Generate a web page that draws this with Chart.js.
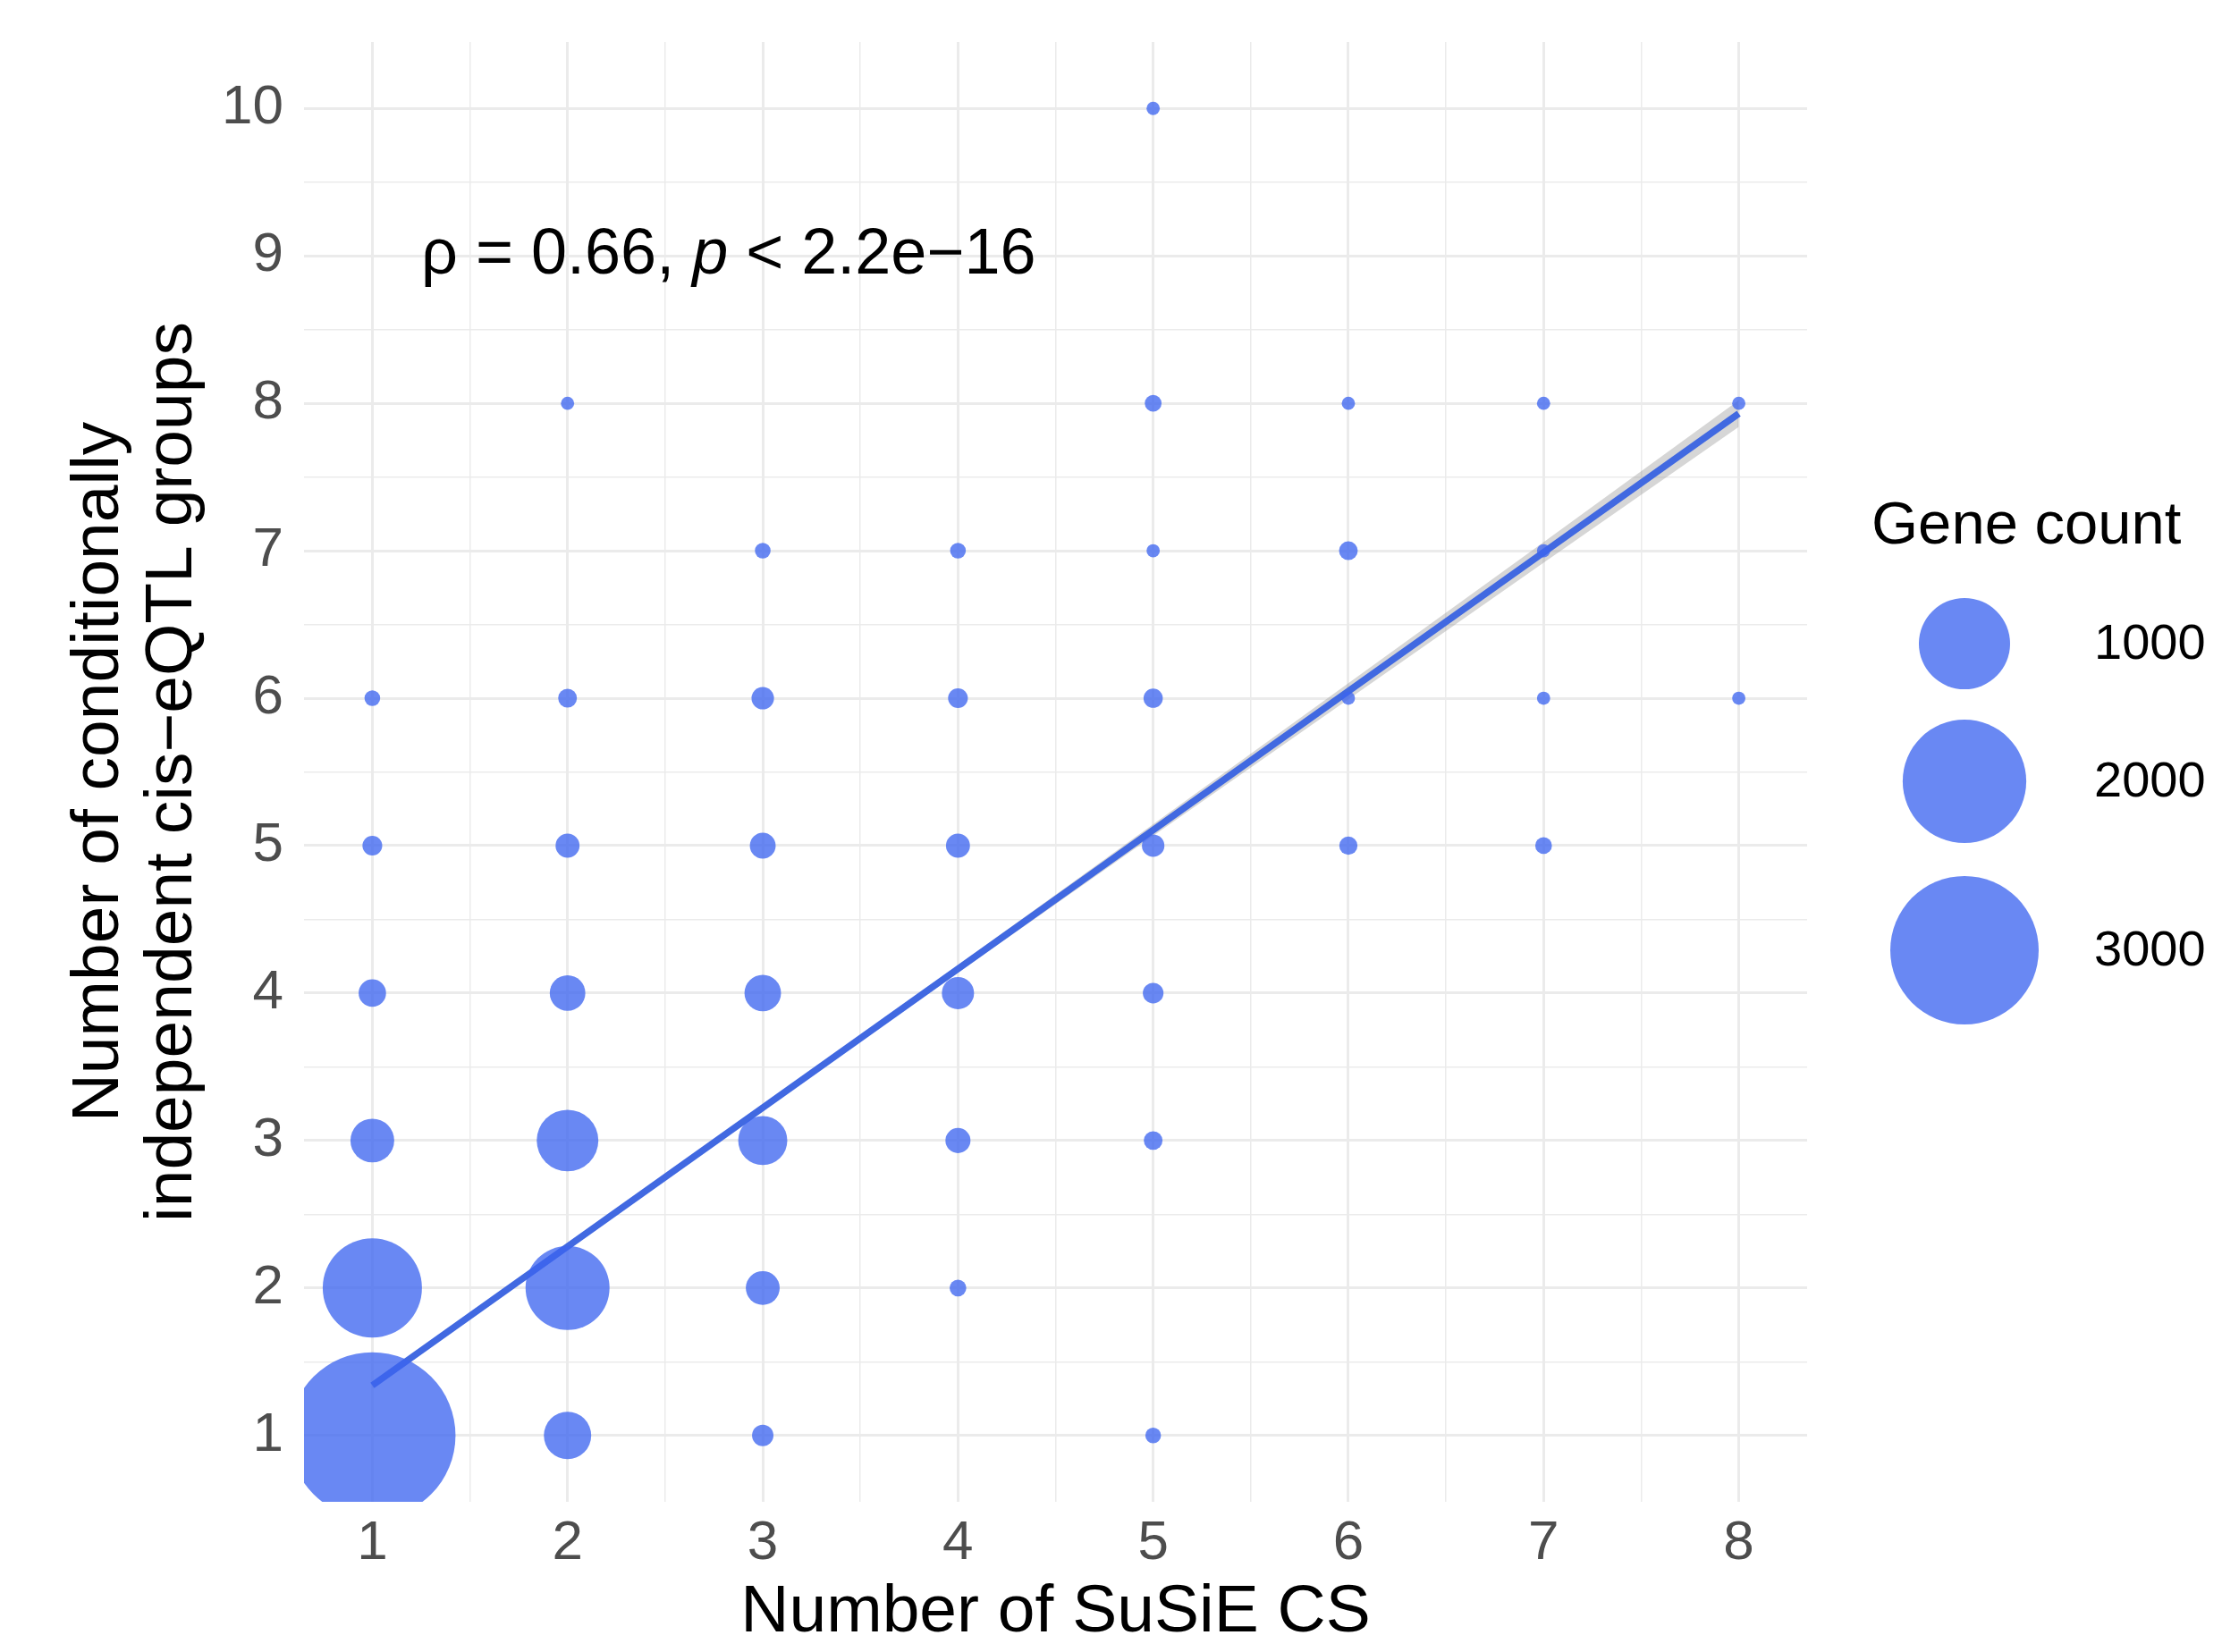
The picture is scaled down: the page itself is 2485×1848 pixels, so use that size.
<!DOCTYPE html>
<html>
<head>
<meta charset="utf-8">
<script src="https://cdn.jsdelivr.net/npm/chart.js@4.4.1/dist/chart.umd.min.js"></script>
<style>
  html, body { margin: 0; padding: 0; background: #fff; }
  canvas { display: block; }
</style>
</head>
<body>
<canvas id="bubbleChart" width="2485" height="1848"></canvas>
<script>
// number of SuSiE credible sets (x), number of conditional eQTL groups (y), genes at that cell
const susieCS    = [1, 1, 1, 1, 1, 1,   2, 2, 2, 2, 2, 2, 2,   3, 3, 3, 3, 3, 3, 3,   4, 4, 4, 4, 4, 4,   5, 5, 5, 5, 5, 5, 5, 5,   6, 6, 6, 6,   7, 7, 7, 7,   8, 8];
const eqtlGroups = [1, 2, 3, 4, 5, 6,   1, 2, 3, 4, 5, 6, 8,   1, 2, 3, 4, 5, 6, 7,   2, 3, 4, 5, 6, 7,   1, 3, 4, 5, 6, 7, 8, 10,  5, 6, 7, 8,   5, 6, 7, 8,   6, 8];
const geneCount  = [3850, 1215, 154, 34, 8, 2,   192, 823, 386, 83, 20, 6, 1,   12, 71, 212, 90, 27, 15, 2,   3, 24, 60, 20, 8, 2,   2, 6, 10, 15, 7, 1, 3, 1,   5, 1, 6, 1,   3, 1, 1, 1,   1, 1];

// linear fit with its confidence band
const fitX = [1, 8];
const fitY = [1.34, 7.93];
const bandX     = [1, 2, 3, 4, 5, 6, 7, 8];
const bandLower = [1.32, 2.269, 3.208, 4.139, 5.066, 5.992, 6.918, 7.84];
const bandUpper = [1.36, 2.293, 3.238, 4.189, 5.146, 6.102, 7.058, 8.02];

const xTicks = [1, 2, 3, 4, 5, 6, 7, 8];
const yTicks = [1, 2, 3, 4, 5, 6, 7, 8, 9, 10];
const legendCounts = [1000, 2000, 3000];

const corLabel = ['ρ = 0.66, ', 'p', ' < 2.2e−16'];

const FONT = '"Liberation Sans", Arial, Helvetica, sans-serif';
const pointColor = 'rgba(60, 100, 240, 0.77)';
const lineColor = '#4169E1';

// area scale: diameter grows with sqrt(count)
function bubbleDiam(n) {
	return 14.8 + 2.76 * Math.sqrt(Math.max(n - 1, 0));
}

function withHalves(ticks) {
	const out = [];
	ticks.forEach(function(v, i) {
		out.push(v);
		if (i < ticks.length - 1) out.push((v + ticks[i + 1]) / 2);
	});
	return out;
}

const bubbles = susieCS.map(function(x, i) {
	return { x: x, y: eqtlGroups[i], r: bubbleDiam(geneCount[i]) / 2 };
});

const gridColor = '#EBEBEB';
function gridWidth(ctx) {
	return ctx.tick && Number.isInteger(ctx.tick.value) ? 3 : 1.5;
}

const extras = {
	id: 'extras',
	afterDraw: function(chart) {
		const ctx = chart.ctx;
		const xs = chart.scales.x, ys = chart.scales.y;
		ctx.save();

		// correlation label
		let px = xs.getPixelForValue(1.25);
		const py = ys.getPixelForValue(9);
		ctx.fillStyle = '#000';
		ctx.textBaseline = 'middle';
		ctx.textAlign = 'left';
		corLabel.forEach(function(part, i) {
			ctx.font = (i === 1 ? 'italic ' : '') + '72px ' + FONT;
			ctx.fillText(part, px, py);
			px += ctx.measureText(part).width;
		});

		// size legend
		const area = chart.chartArea;
		ctx.font = '67px ' + FONT;
		ctx.fillText('Gene count', area.right + 72, 590);
		const keyY = [720, 874, 1063];
		legendCounts.forEach(function(n, i) {
			ctx.beginPath();
			ctx.arc(2197, keyY[i], bubbleDiam(n) / 2, 0, Math.PI * 2);
			ctx.fillStyle = pointColor;
			ctx.fill();
			ctx.fillStyle = '#000';
			ctx.font = '56px ' + FONT;
			ctx.fillText(String(n), 2342, keyY[i] + 2);
		});
		ctx.restore();
	}
};

new Chart(document.getElementById('bubbleChart'), {
	type: 'bubble',
	data: {
		datasets: [{
			type: 'bubble',
			data: bubbles,
			backgroundColor: pointColor,
			borderWidth: 0,
			clip: 0,
			order: 0
		}, {
			type: 'line',
			data: fitX.map(function(x, i) { return { x: x, y: fitY[i] }; }),
			borderColor: lineColor,
			borderWidth: 7.5,
			pointRadius: 0,
			fill: false,
			order: 1
		}, {
			type: 'line',
			data: bandX.map(function(x, i) { return { x: x, y: bandLower[i] }; }),
			borderWidth: 0,
			pointRadius: 0,
			fill: false,
			order: 2
		}, {
			type: 'line',
			data: bandX.map(function(x, i) { return { x: x, y: bandUpper[i] }; }),
			borderWidth: 0,
			pointRadius: 0,
			fill: '-1',
			backgroundColor: 'rgba(153, 153, 153, 0.4)',
			order: 2
		}]
	},
	options: {
		responsive: false,
		animation: false,
		events: [],
		layout: {
			autoPadding: false,
			padding: { top: 47, right: 464, bottom: 0, left: 0 }
		},
		plugins: {
			legend: { display: false },
			tooltip: { enabled: false }
		},
		scales: {
			x: {
				type: 'linear',
				min: 0.65,
				max: 8.35,
				afterBuildTicks: function(scale) {
					scale.ticks = withHalves(xTicks).map(function(v) { return { value: v }; });
				},
				afterFit: function(scale) {
					scale.height = 168;
					scale.paddingLeft = 0;
					scale.paddingRight = 0;
				},
				border: { display: false },
				grid: { color: gridColor, lineWidth: gridWidth, drawTicks: false },
				ticks: {
					autoSkip: false,
					maxRotation: 0,
					padding: 10,
					color: '#4D4D4D',
					font: { family: FONT, size: 62 },
					callback: function(v) { return Number.isInteger(v) ? String(v) : ''; }
				},
				title: {
					display: true,
					text: 'Number of SuSiE CS',
					color: '#000',
					font: { family: FONT, size: 75, lineHeight: 1.1 },
					padding: { top: 0, bottom: 2 }
				}
			},
			y: {
				type: 'linear',
				min: 0.55,
				max: 10.45,
				afterBuildTicks: function(scale) {
					scale.ticks = withHalves(yTicks).map(function(v) { return { value: v }; });
				},
				afterFit: function(scale) {
					scale.width = 340;
					scale.paddingTop = 0;
					scale.paddingBottom = 0;
				},
				border: { display: false },
				grid: { color: gridColor, lineWidth: gridWidth, drawTicks: false },
				ticks: {
					autoSkip: false,
					padding: 23,
					color: '#4D4D4D',
					font: { family: FONT, size: 62 },
					callback: function(v) { return Number.isInteger(v) ? String(v) : ''; }
				},
				title: {
					display: true,
					text: ['Number of conditionally', 'independent cis−eQTL groups'],
					color: '#000',
					font: { family: FONT, size: 75, lineHeight: 1.1 },
					padding: { top: 70, bottom: 0 }
				}
			}
		}
	},
	plugins: [extras]
});
</script>
</body>
</html>
